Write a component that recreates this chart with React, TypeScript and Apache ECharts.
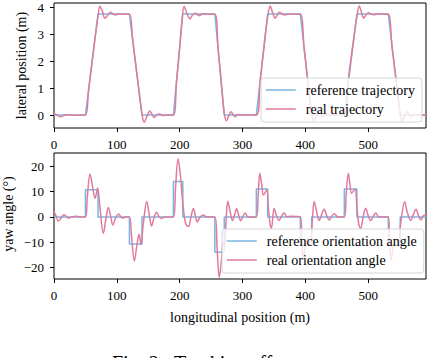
import { useEffect, useRef } from "react";
import * as echarts from "echarts";

const FONT = "'Liberation Serif', 'DejaVu Serif', serif";
const BLUE = "#78b6e4";
const PINK = "#e07b9b";

const xTicks = [0, 100, 200, 300, 400, 500];
const latTicks = [0, 1, 2, 3, 4];
const yawTicks = [-20, -10, 0, 10, 20];

const refLateral: [number, number][] = [
  [0, 0], [50, 0], [70, 3.75], [120, 3.75], [140, 0], [190, 0], [205, 3.75], [256, 3.75],
  [271, 0], [322, 0], [340, 3.75], [392, 3.75], [410, 0], [462, 0], [482, 3.75], [532, 3.75],
  [551, 0], [592, 0],
];

const realLateral: [number, number][] = [
  [0, 0.06], [5, 0.0], [10, -0.06], [16, -0.02], [22, 0.01], [30, -0.01], [40, 0], [50, 0],
  [55, 0.9], [60, 1.85], [65, 2.8], [70, 3.65], [73, 4.04], [77, 3.85], [81, 3.6], [86, 3.72],
  [90, 3.82], [94, 3.75], [98, 3.72], [104, 3.76], [110, 3.74], [120, 3.74], [125, 2.85],
  [130, 1.9], [135, 0.95], [140, 0.05], [143.5, -0.27], [148, -0.05], [152.5, 0.15], [156, 0.02],
  [159.5, -0.09], [164, 0.02], [168, 0.04], [174, -0.02], [180, 0], [190, 0], [195, 1.25],
  [200, 2.5], [204, 3.6], [207, 4.03], [211, 3.8], [216.5, 3.57], [220, 3.7], [224.5, 3.78],
  [231, 3.69], [238, 3.76], [246, 3.74], [256, 3.74], [261, 2.5], [266, 1.25], [271, 0.05],
  [274.5, -0.21], [278, -0.03], [281.8, 0.12], [285, 0.02], [288, -0.06], [293, 0.02], [300, 0],
  [322, 0], [328, 1.25], [334, 2.5], [340, 3.65], [344, 4.05], [348, 3.8], [352, 3.6], [355, 3.7],
  [358.8, 3.82], [363, 3.75], [367.8, 3.72], [375, 3.76], [382, 3.74], [392, 3.74], [398, 2.5],
  [404, 1.25], [410, 0.05], [413.5, -0.22], [417, -0.03], [421, 0.13], [424, 0.02], [427, -0.06],
  [432, 0.02], [440, 0], [462, 0], [468, 1.25], [475, 2.5], [482, 3.65], [485.7, 4.05],
  [489, 3.85], [492.6, 3.6], [496, 3.7], [500.5, 3.8], [504, 3.76], [508.5, 3.72], [516, 3.76],
  [524, 3.74], [532, 3.74], [538, 2.5], [545, 1.2], [551, 0.05], [554.5, -0.22], [558, -0.03],
  [562, 0.13], [565, 0.02], [568, -0.06], [573, 0.02], [580, 0], [592, 0],
];

const refYaw: [number, number][] = [
  [0, 0], [50, 0], [50, 10.7], [70, 10.7], [70, 0], [120, 0], [120, -10.7], [140, -10.7],
  [140, 0], [190, 0], [190, 14], [205, 14], [205, 0], [256, 0], [256, -14], [271, -14],
  [271, 0], [322, 0], [322, 11], [340, 11], [340, 0], [392, 0], [392, -11], [410, -11],
  [410, 0], [462, 0], [462, 11], [482, 11], [482, 0], [532, 0], [532, -11], [551, -11],
  [551, 0], [592, 0],
];

const realYaw: [number, number][] = [
  [0, 2.1], [3, 0.5], [6.9, -1.6], [11, -0.5], [16, 0.8], [20, 0.2], [23, -0.5], [28, 0],
  [35, 0.3], [42, 0], [50, 0], [53, 8], [57.3, 17], [61, 12.5], [65.3, 7.4], [69.5, 11.4],
  [73, 4], [78.5, -6.5], [82.5, -1], [86.5, 3.7], [90, 0.5], [93.6, -3.2], [98, -0.5],
  [102.5, 1.1], [106, 0.2], [109, -0.5], [114, 0], [120, 0], [123.5, -8], [127.9, -17.5],
  [131.5, -12], [135.4, -6.9], [138.5, -11], [142, -3], [147.7, 6.1], [151.5, 1],
  [155.2, -3.6], [159, -0.5], [163.2, 1.8], [167, 0.2], [171, -0.6], [176, 0], [190, 0],
  [193.5, 12], [197.5, 23], [201, 17], [204, 8], [207, 1], [210, -3], [213.9, -3.8], [218, 0],
  [221.8, 3.3], [225, 0.5], [228, -2], [232, -0.2], [237.8, 0.7], [243, 0], [256, 0],
  [259.5, -12], [263, -24], [266.5, -17], [269, -10], [271.5, -12], [274, -1], [276.5, 6.2],
  [280, 2.5], [284, -1.5], [287, 0.5], [290.7, 3.2], [294, 0.5], [297, -1.5], [301, 0.3],
  [304, 1.5], [309, 0], [322, 0], [325, 9], [327.5, 17.3], [330.5, 13], [333.3, 8.7],
  [338.6, 10.7], [341, 4], [344, -3], [346, -4.5], [350.3, 3.4], [354, 0.5], [358, -1.4],
  [362, 0.2], [366, 1.5], [371, 0], [377, 0.3], [392, 0], [394.5, -9], [397, -17], [400, -12],
  [403, -8.5], [408, -10.5], [411, -2], [414, 6.1], [418, 2], [422, -1.4], [426, 1], [430, 3],
  [434, 0.5], [438, -1.2], [442, 0.3], [446, 1.2], [452, 0], [462, 0], [465, 9], [468.3, 17.3],
  [471, 13], [473.5, 9.4], [479, 11], [482, 4], [485, -3], [488, -4.5], [492, 0], [496, 3.4],
  [500, 0.5], [504, -1.4], [508, 0.2], [512, 1.5], [517, 0], [532, 0], [534, -9], [536.5, -17],
  [540, -12], [543, -8.5], [548, -10.5], [552, -2], [558, 6], [562, 2], [567.8, -1.4], [572, 1],
  [576, 3], [580, 0.5], [584, -1.2], [588, 0.5], [592, 1],
];

const minus = (v: number) => String(v).replace("-", "\u2212");

function xAxis(gridIndex: number) {
  return {
    type: "value",
    gridIndex,
    min: 0,
    max: 592,
    position: "bottom",
    splitLine: { show: false },
    axisLine: { show: false, onZero: false },
    axisTick: { show: true, length: 4, inside: false, customValues: xTicks, lineStyle: { color: "#000", width: 1 } },
    axisLabel: { customValues: xTicks, margin: 10, fontSize: 13, color: "#000", fontFamily: FONT },
  };
}

function yAxis(gridIndex: number, min: number, max: number, ticks: number[]) {
  return {
    type: "value",
    gridIndex,
    min,
    max,
    position: "left",
    splitLine: { show: false },
    axisLine: { show: false, onZero: false },
    axisTick: { show: true, length: 4, inside: false, customValues: ticks, lineStyle: { color: "#000", width: 1 } },
    axisLabel: { customValues: ticks, margin: 10, fontSize: 13, color: "#000", fontFamily: FONT, formatter: (v: number) => minus(v) },
  };
}

function legend(names: string[], left: number, top: number) {
  return {
    data: names,
    orient: "vertical",
    left,
    top,
    itemWidth: 30,
    itemHeight: 14,
    itemGap: 5,
    padding: [5, 7, 6, 4],
    backgroundColor: "rgba(255,255,255,0.8)",
    borderColor: "#d6d6d6",
    borderWidth: 1,
    borderRadius: 3,
    itemStyle: { opacity: 0 },
    lineStyle: { width: 1.5 },
    textStyle: { fontSize: 14, color: "#000", fontFamily: FONT, padding: [0, 0, 0, 5] },
  };
}

function line(name: string, data: [number, number][], color: string, idx: number, smooth: number | boolean) {
  return {
    type: "line",
    name,
    data,
    xAxisIndex: idx,
    yAxisIndex: idx,
    symbol: "none",
    smooth,
    lineStyle: { color, width: 1.5 },
    itemStyle: { color },
  };
}

const option = {
  animation: false,
  backgroundColor: "#fff",
  textStyle: { fontFamily: FONT },
  grid: [
    { left: 54, top: 3, width: 372, height: 125, show: true, borderColor: "#000", borderWidth: 1, backgroundColor: "transparent" },
    { left: 54, top: 153, width: 372, height: 126, show: true, borderColor: "#000", borderWidth: 1, backgroundColor: "transparent" },
  ],
  xAxis: [xAxis(0), xAxis(1)],
  yAxis: [yAxis(0, -0.48, 4.16, latTicks), yAxis(1, -24.6, 25.3, yawTicks)],
  legend: [
    legend(["reference trajectory", "real trajectory"], 261, 78),
    legend(["reference orientation angle", "real orientation angle"], 222, 229),
  ],
  series: [
    line("reference trajectory", refLateral, BLUE, 0, false),
    line("real trajectory", realLateral, PINK, 0, 0.35),
    line("reference orientation angle", refYaw, BLUE, 1, false),
    line("real orientation angle", realYaw, PINK, 1, 0.35),
  ],
  graphic: [
    { type: "text", x: 21, y: 65.5, rotation: Math.PI / 2, style: { text: "lateral position (m)", fontSize: 14, fontFamily: FONT, fill: "#000", align: "center", verticalAlign: "middle" } },
    { type: "text", x: 8, y: 214, rotation: Math.PI / 2, style: { text: "yaw angle (\u00b0)", fontSize: 14, fontFamily: FONT, fill: "#000", align: "center", verticalAlign: "middle" } },
    { type: "text", x: 240, y: 317, style: { text: "longitudinal position (m)", fontSize: 14, fontFamily: FONT, fill: "#000", align: "center", verticalAlign: "middle" } },
    { type: "text", x: 112, y: 353, style: { text: "Fig. 2:  Tracking effect", fontSize: 20, fontFamily: FONT, fill: "#000", align: "left", verticalAlign: "top" } },
  ],
};

export default function App() {
  const ref = useRef<HTMLDivElement>(null);
  useEffect(() => {
    const chart = echarts.init(ref.current!, null, { renderer: "svg" });
    chart.setOption(option as any);
    return () => chart.dispose();
  }, []);
  return (
    <div
      ref={ref}
      style={{ position: "absolute", left: 0, top: 0, width: 428, height: 358, background: "#fff" }}
    />
  );
}
